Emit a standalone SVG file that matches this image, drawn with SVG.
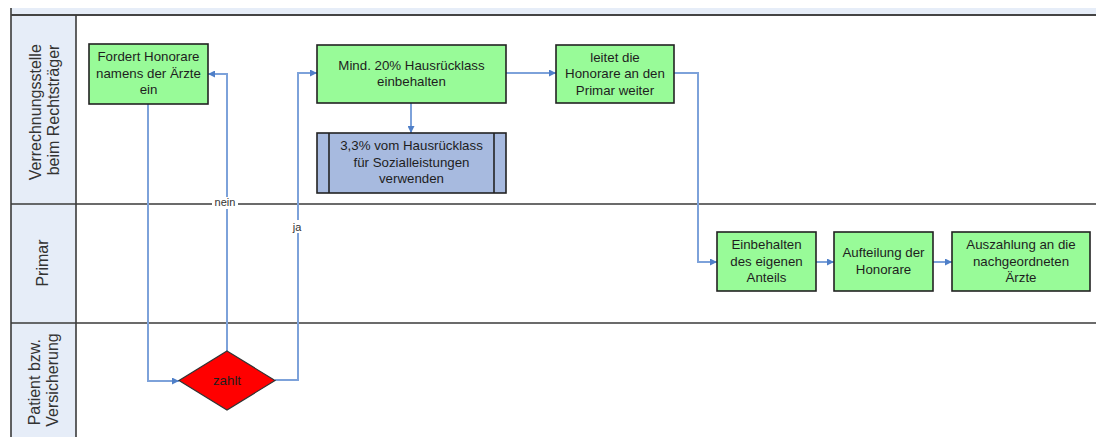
<svg xmlns="http://www.w3.org/2000/svg" width="1096" height="437" viewBox="0 0 1096 437">
  <style>
    .lane-head { fill: #e6edf8; }
    .divider { stroke: #3a3a3a; stroke-width: 1.6; fill: none; }
    .lane-label { font-family: "Liberation Sans", Arial, sans-serif; font-size: 16px; fill: #333; text-anchor: middle; }
    .task { fill: #98fb98; stroke: #222; stroke-width: 1.6; }
    .sub { fill: #a7badf; stroke: #222; stroke-width: 1.6; }
    .sub-bar { stroke: #222; stroke-width: 1.6; }
    .decision { fill: #ff0000; stroke: #333; stroke-width: 1.2; }
    .label { font-family: "Liberation Sans", Arial, sans-serif; font-size: 13.3px; fill: #1e1e1e; text-anchor: middle; }
    .edge { fill: none; stroke: #7da2da; stroke-width: 2; marker-end: url(#arrow); }
    .edge-label { font-family: "Liberation Sans", Arial, sans-serif; font-size: 11px; fill: #333; text-anchor: middle; }
  </style>
  <defs>
    <marker id="arrow" viewBox="0 0 10 10" refX="10" refY="5" markerWidth="7" markerHeight="7" markerUnits="userSpaceOnUse" orient="auto">
      <path d="M0,0 L10,5 L0,10 z" fill="#4f7fc8"/>
    </marker>
  </defs>

  <rect width="1096" height="437" fill="#ffffff"/>

  <!-- pool frame and swimlanes -->
  <g id="lanes">
    <rect x="11" y="8" width="1085" height="7" class="lane-head"/>
    <rect x="11" y="15" width="65" height="422" class="lane-head"/>
    <line x1="11" y1="8" x2="11" y2="437" class="divider"/>
    <line x1="11" y1="15" x2="1096" y2="15" stroke="#444" stroke-width="2.2"/>
    <line x1="76" y1="15" x2="76" y2="437" class="divider"/>
    <line x1="11" y1="204" x2="1096" y2="204" class="divider"/>
    <line x1="11" y1="323" x2="1096" y2="323" class="divider"/>

    <text class="lane-label" transform="translate(44,110) rotate(-90)">
      <tspan x="0" y="-3.5">Verrechnungsstelle</tspan>
      <tspan x="0" y="15">beim Rechtsträger</tspan>
    </text>
    <text class="lane-label" transform="translate(44,263) rotate(-90)">
      <tspan x="0" y="4">Primar</tspan>
    </text>
    <text class="lane-label" transform="translate(44,380) rotate(-90)">
      <tspan x="0" y="-4.5">Patient bzw.</tspan>
      <tspan x="0" y="14">Versicherung</tspan>
    </text>
  </g>

  <!-- connectors -->
  <g id="connectors">
    <path class="edge" d="M148,104 V381 H179"/>
    <path class="edge" d="M227,351 V74 H208"/>
    <path class="edge" d="M275,380 H298 V73 H317"/>
    <path class="edge" d="M506,73 H556"/>
    <path class="edge" d="M411,103 V133"/>
    <path class="edge" d="M674,73 H698 V262 H717"/>
    <path class="edge" d="M816,262 H834"/>
    <path class="edge" d="M933,262 H952"/>

    <rect x="212" y="197" width="26" height="12" fill="#ffffff"/>
    <text class="edge-label" x="225" y="206">nein</text>
    <rect x="290" y="220" width="15" height="13" fill="#ffffff"/>
    <text class="edge-label" x="297" y="231">ja</text>
  </g>

  <g id="fordert">
    <rect class="task" x="89" y="44" width="119" height="60"/>
    <text class="label"><tspan x="148.5" y="61">Fordert Honorare</tspan><tspan x="148.5" y="77.5">namens der Ärzte</tspan><tspan x="148.5" y="94">ein</tspan></text>
  </g>

  <g id="hausruecklass">
    <rect class="task" x="317" y="45" width="189" height="58"/>
    <text class="label"><tspan x="411.5" y="69.5">Mind. 20% Hausrücklass</tspan><tspan x="411.5" y="86">einbehalten</tspan></text>
  </g>

  <g id="weiterleiten">
    <rect class="task" x="556" y="45" width="118" height="58"/>
    <text class="label"><tspan x="615" y="61.5">leitet die</tspan><tspan x="615" y="78">Honorare an den</tspan><tspan x="615" y="94.5">Primar weiter</tspan></text>
  </g>

  <g id="sozialleistungen">
    <rect class="sub" x="317" y="133" width="189" height="60"/>
    <line class="sub-bar" x1="329" y1="133" x2="329" y2="193"/>
    <line class="sub-bar" x1="494" y1="133" x2="494" y2="193"/>
    <text class="label"><tspan x="411.5" y="150">3,3% vom Hausrücklass</tspan><tspan x="411.5" y="166.5">für Sozialleistungen</tspan><tspan x="411.5" y="183">verwenden</tspan></text>
  </g>

  <g id="zahlt">
    <polygon class="decision" points="227,351 275,380.5 227,410 179,380.5"/>
    <text class="label" x="227" y="385" fill="#300">zahlt</text>
  </g>

  <g id="eigener-anteil">
    <rect class="task" x="717" y="232" width="99" height="59"/>
    <text class="label"><tspan x="766.5" y="249">Einbehalten</tspan><tspan x="766.5" y="265.5">des eigenen</tspan><tspan x="766.5" y="282">Anteils</tspan></text>
  </g>

  <g id="aufteilung">
    <rect class="task" x="834" y="232" width="99" height="59"/>
    <text class="label"><tspan x="883.5" y="257">Aufteilung der</tspan><tspan x="883.5" y="273.5">Honorare</tspan></text>
  </g>

  <g id="auszahlung">
    <rect class="task" x="952" y="232" width="138" height="59"/>
    <text class="label"><tspan x="1021" y="249">Auszahlung an die</tspan><tspan x="1021" y="265.5">nachgeordneten</tspan><tspan x="1021" y="282">Ärzte</tspan></text>
  </g>
</svg>
